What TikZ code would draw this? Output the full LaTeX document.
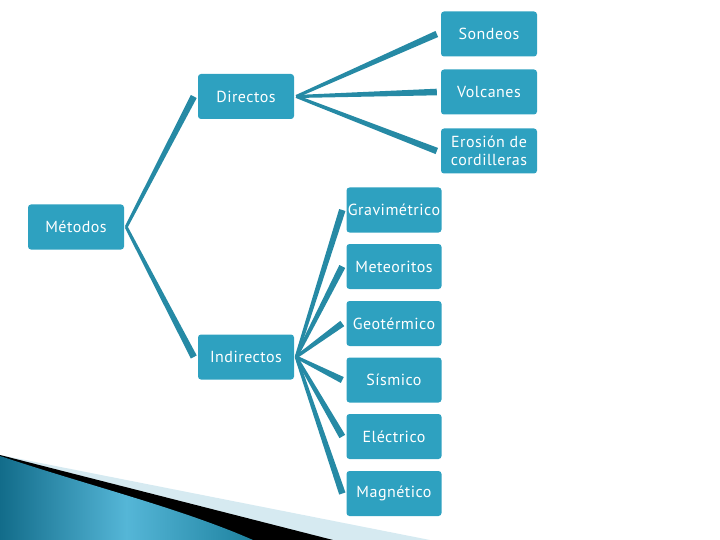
\documentclass[tikz,border=0pt]{standalone}
\usepackage{fontspec}
\setmainfont{PT Sans}[LetterSpace=3]
\usetikzlibrary{calc}
\definecolor{boxc}{RGB}{46,161,192}
\definecolor{linec}{RGB}{38,138,165}
\definecolor{bandc}{RGB}{214,234,241}
\newcommand\wedgeln[2]{\fill[linec] (#1) -- ($(#1)!1.5pt!90:(#2)$) -- ($(#2)!3.3pt!-90:(#1)$) -- ($(#2)!3.3pt!90:(#1)$) -- ($(#1)!1.5pt!-90:(#2)$) -- cycle;}
\tikzset{
  box/.style={fill=boxc, rounded corners=3pt, minimum width=96pt, minimum height=45pt,
    inner sep=0pt, text=white, font=\fontsize{16}{17.5}\selectfont, align=center},
  smallbox/.style={box, minimum width=95pt}
}
\begin{document}
\begin{tikzpicture}[x=1pt,y=-1pt]
\useasboundingbox (0,0) rectangle (720,540);
% bottom decoration
\fill[bandc] (0,455) -- (430,540) -- (0,540) -- cycle;
\fill[black] (0,455) -- (333,540) -- (0,540) -- cycle;
\shade[left color={rgb,255:red,18;green,108;blue,138}, right color={rgb,255:red,30;green,130;blue,160}, middle color={rgb,255:red,85;green,182;blue,215}]
  (0,456) .. controls (90,486) and (180,508) .. (253,540) -- (0,540) -- cycle;
% nodes
\node[box] (son) at (489,34) {Sondeos};
\node[box] (vol) at (489,92) {Volcanes};
\node[box] (ero) at (489,151) {Erosión de\\cordilleras};
\node[box] (dir) at (246,96.5) {Directos};
\node[box] (met) at (76,227) {Métodos};
\node[box] (ind) at (246,357) {Indirectos};
\node[smallbox] (gra) at (394,210) {Gravimétrico};
\node[smallbox] (meo) at (394,266.5) {Meteoritos};
\node[smallbox] (geo) at (394,323.5) {Geotérmico};
\node[smallbox] (sis) at (394,380) {Sísmico};
\node[smallbox] (ele) at (394,436.5) {Eléctrico};
\node[smallbox] (mag) at (394,493.5) {Magnético};
% connector anchors
\coordinate (pmet) at ([xshift=2pt]met.east);
\coordinate (pdir) at ([xshift=2pt]dir.east);
\coordinate (pind) at ([xshift=2pt]ind.east);
\foreach \n in {son,vol,ero,dir,ind,gra,meo,geo,sis,ele,mag}
  {\coordinate (c\n) at ([xshift=-4pt]\n.west);}
% connectors
\wedgeln{pmet}{cdir}
\wedgeln{pmet}{cind}
\wedgeln{pdir}{cson}
\wedgeln{pdir}{cvol}
\wedgeln{pdir}{cero}
\foreach \n in {gra,meo,geo,sis,ele,mag}{\wedgeln{pind}{c\n}}
\end{tikzpicture}
\end{document}
